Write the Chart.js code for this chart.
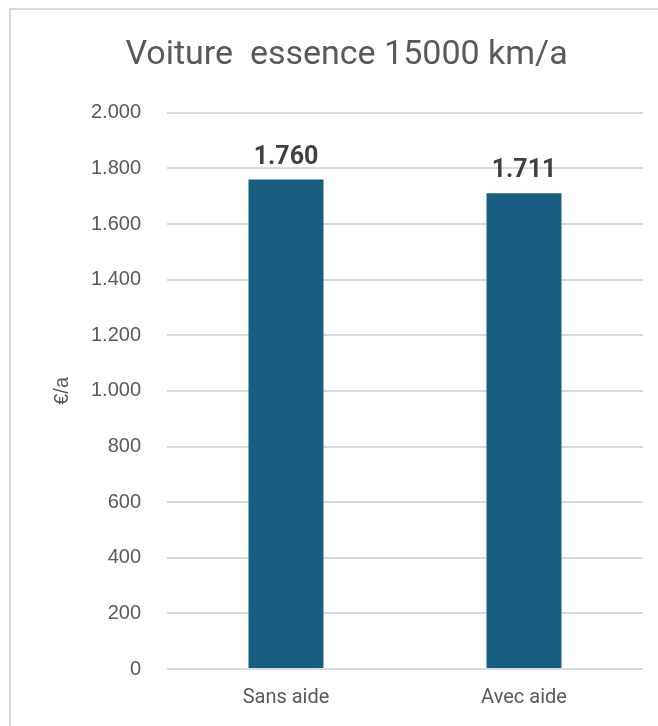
<!DOCTYPE html>
<html>
<head>
<meta charset="utf-8">
<script src="https://cdn.jsdelivr.net/npm/chart.js@4/dist/chart.umd.min.js"></script>
<style>
  html, body { margin: 0; padding: 0; background: #ffffff; overflow: hidden; }
  #wrap { position: absolute; left: 0; top: 0; width: 658px; height: 726px; }
</style>
</head>
<body>
<div id="wrap"><canvas id="c" width="658" height="726"></canvas></div>
<script>
const categories = ["Sans aide", "Avec aide"];
const values = [1760, 1711];
const chartTitle = "Voiture  essence 15000 km/a";
const yAxisTitle = "€/a";
const yMin = 0, yMax = 2000, yStep = 200;

function fmt(v) {
  const s = String(Math.round(v));
  return s.replace(/\B(?=(\d{3})+(?!\d))/g, ".");
}

const frame = {
  id: 'frame',
  beforeDraw(chart) {
    const ctx = chart.ctx;
    ctx.save();
    ctx.fillStyle = '#ffffff';
    ctx.fillRect(0, 0, chart.width, chart.height);
    ctx.strokeStyle = '#d9d9d9';
    ctx.lineWidth = 2;
    ctx.strokeRect(10, 9, 700, 800);
    ctx.restore();
  }
};

const dataLabels = {
  id: 'dataLabels',
  afterDatasetsDraw(chart) {
    const ctx = chart.ctx;
    const meta = chart.getDatasetMeta(0);
    ctx.save();
    ctx.font = 'bold 25px "Roboto", "Liberation Sans", sans-serif';
    ctx.fillStyle = '#404040';
    ctx.textAlign = 'center';
    ctx.textBaseline = 'alphabetic';
    meta.data.forEach((bar, i) => {
      ctx.fillText(fmt(values[i]), bar.x, bar.y - 16);
    });
    ctx.restore();
  }
};

new Chart(document.getElementById('c'), {
  type: 'bar',
  data: {
    labels: categories,
    datasets: [{
      data: values,
      backgroundColor: '#175e80',
      borderWidth: 0,
      categoryPercentage: 1.0,
      barPercentage: 0.315
    }]
  },
  options: {
    responsive: false,
    animation: false,
    devicePixelRatio: 1,
    layout: { padding: { top: 20, left: 50, right: 15, bottom: 0 } },
    plugins: {
      legend: { display: false },
      tooltip: { enabled: false },
      title: {
        display: true,
        text: chartTitle,
        color: '#595959',
        font: { family: '"Roboto", sans-serif', size: 34, weight: 'normal' },
        padding: { top: 15, bottom: 37 }
      }
    },
    scales: {
      x: {
        grid: { display: false, drawTicks: false },
        border: { display: false },
        ticks: {
          color: '#595959',
          padding: 17,
          font: { family: '"Roboto", sans-serif', size: 20 }
        },
        afterFit(axis) { axis.height = 57; }
      },
      y: {
        min: yMin, max: yMax,
        grid: { color: '#d9d9d9', lineWidth: 2, drawTicks: false },
        border: { display: false },
        ticks: {
          stepSize: yStep,
          color: '#595959',
          padding: 26,
          font: { family: '"Liberation Sans", Arial, sans-serif', size: 20 },
          callback: (v) => fmt(v)
        },
        title: {
          display: true,
          text: yAxisTitle,
          color: '#595959',
          padding: { top: 0, bottom: 0 },
          font: { family: '"Liberation Sans", Arial, sans-serif', size: 20 }
        },
        afterFit(axis) { axis.width = 167 - 50; }
      }
    }
  },
  plugins: [frame, dataLabels]
});
</script>
</body>
</html>
